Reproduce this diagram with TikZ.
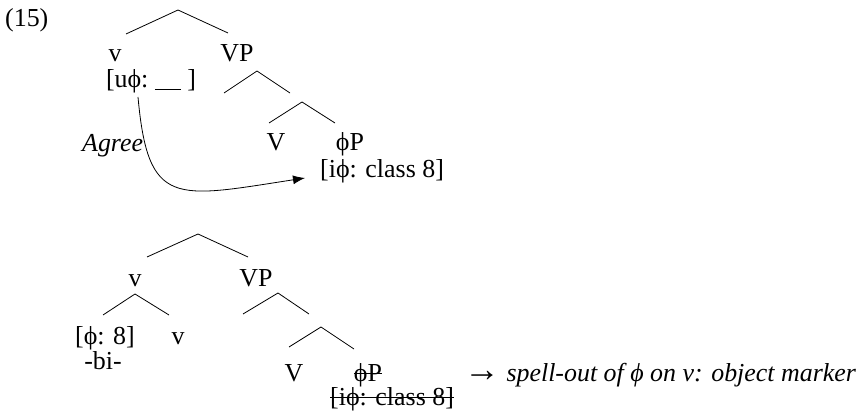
\documentclass[tikz,border=0pt]{standalone}
\usepackage{fontspec}
\setmainfont{Liberation Serif}
\usetikzlibrary{arrows.meta}
\begin{document}
\begin{tikzpicture}[>={Latex[length=12bp,width=9bp]},line join=bevel,
  every node/.style={inner sep=0pt,font=\fontsize{26}{30}\selectfont},
  lbl/.style={anchor=base},
  branch/.style={black,line width=0.8bp},
  strike/.style={black,line width=1bp}]
\useasboundingbox (0bp,0bp) rectangle (858bp,413bp);
%% first tree
\node (ex) at (5bp,386bp) [anchor=base west] {(15)};
\node (v1) at (115bp,351bp) [lbl] {v};
\node (VP1) at (237bp,351bp) [lbl] {VP};
\node (uphi) at (151bp,325bp) [lbl] {[uϕ:~\rule[-2bp]{26bp}{1.1bp}~]};
\node (V1) at (276bp,262bp) [lbl] {V};
\node (phiP1) at (350bp,262bp) [lbl] {ϕP};
\node (iphi1) at (320bp,235bp) [anchor=base west] {[iϕ: class 8]};
\node (agree) at (82bp,261bp) [anchor=base west] {\itshape Agree};
  \coordinate (top1) at (178bp,403bp);
  \coordinate (top1l) at (126bp,379bp);
  \coordinate (top1r) at (228bp,380bp);
  \coordinate (vp1) at (257bp,342bp);
  \coordinate (vp1l) at (224bp,320bp);
  \coordinate (vp1r) at (290bp,320bp);
  \coordinate (vbar1) at (302bp,311bp);
  \coordinate (vbar1l) at (269bp,290bp);
  \coordinate (vbar1r) at (335bp,290bp);
  \coordinate (agreestart) at (138bp,316bp);
  \coordinate (agreeend) at (305bp,235bp);
  \draw [branch] (top1l) -- (top1) -- (top1r);
  \draw [branch] (vp1l) -- (vp1) -- (vp1r);
  \draw [branch] (vbar1l) -- (vbar1) -- (vbar1r);
  \draw [black,line width=0.8bp,->] (agreestart) ..controls (148bp,205bp) and (175bp,215bp) .. (agreeend);
%% second tree
\node (v2) at (135bp,126bp) [lbl] {v};
\node (VP2) at (256bp,126bp) [lbl] {VP};
\node (phi8) at (105bp,68bp) [lbl] {[ϕ: 8]};
\node (bi) at (103bp,43bp) [lbl] {-bi-};
\node (v3) at (178bp,68bp) [lbl] {v};
\node (V2) at (294bp,32bp) [lbl] {V};
\node (phiP2) at (368bp,32bp) [lbl] {ϕP};
\node (iphi2) at (330bp,8bp) [anchor=base west] {[iϕ: class 8]};
\node (spell) at (464bp,32bp) [anchor=base west] {{\fontsize{36}{36}\selectfont →} \itshape spell-out of ϕ on v: object marker};
  \coordinate (top2) at (198bp,179bp);
  \coordinate (top2l) at (147bp,156bp);
  \coordinate (top2r) at (248bp,156bp);
  \coordinate (vv) at (135bp,119bp);
  \coordinate (vvl) at (103bp,98bp);
  \coordinate (vvr) at (169bp,98bp);
  \coordinate (vp2) at (278bp,120bp);
  \coordinate (vp2l) at (243bp,99bp);
  \coordinate (vp2r) at (309bp,99bp);
  \coordinate (vbar2) at (321bp,86bp);
  \coordinate (vbar2l) at (289bp,66bp);
  \coordinate (vbar2r) at (354bp,64bp);
  \draw [branch] (top2l) -- (top2) -- (top2r);
  \draw [branch] (vvl) -- (vv) -- (vvr);
  \draw [branch] (vp2l) -- (vp2) -- (vp2r);
  \draw [branch] (vbar2l) -- (vbar2) -- (vbar2r);
  \draw [strike] ([yshift=7bp]phiP2.base west) -- ([yshift=7bp]phiP2.base east);
  \draw [strike] ([yshift=7bp]iphi2.base west) -- ([yshift=7bp]iphi2.base east);
%
\end{tikzpicture}
\end{document}
